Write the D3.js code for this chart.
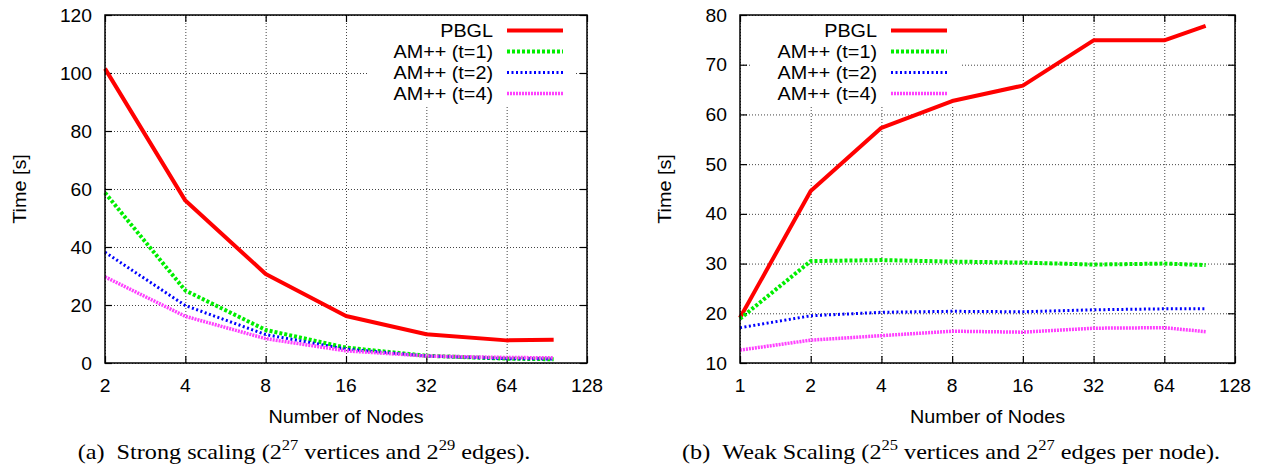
<!DOCTYPE html>
<html>
<head>
<meta charset="utf-8">
<script src="https://cdn.jsdelivr.net/npm/d3@7"></script>
<style>
  body { margin: 0; background: #fff; }
  svg { display: block; }
</style>
</head>
<body>
<div id="chart"></div>
<script>
"use strict";

// strong scaling (2^27 vertices, 2^29 edges)
const strongNodes = [2, 4, 8, 16, 32, 64, 96];
const strongPBGL = [101.5, 56, 30.7, 16.2, 9.9, 7.8, 8.0];
const strongAM1 = [58.7, 25.0, 11.4, 5.3, 2.5, 1.5, 1.3];
const strongAM2 = [38.2, 19.8, 9.8, 4.8, 2.4, 1.5, 1.4];
const strongAM4 = [29.7, 16.1, 8.4, 4.2, 2.4, 1.9, 1.8];
const strongXTicks = [2, 4, 8, 16, 32, 64, 128];
const strongYTicks = [0, 20, 40, 60, 80, 100, 120];

// weak scaling (2^25 vertices, 2^27 edges per node)
const weakNodes = [1, 2, 4, 8, 16, 32, 64, 96];
const weakPBGL = [19.1, 44.6, 57.3, 62.7, 65.8, 74.9, 74.9, 77.8];
const weakAM1 = [18.9, 30.5, 30.7, 30.4, 30.2, 29.8, 30.0, 29.7];
const weakAM2 = [17.1, 19.5, 20.2, 20.4, 20.3, 20.7, 20.9, 20.9];
const weakAM4 = [12.6, 14.6, 15.5, 16.4, 16.2, 17.0, 17.1, 16.3];
const weakXTicks = [1, 2, 4, 8, 16, 32, 64, 128];
const weakYTicks = [10, 20, 30, 40, 50, 60, 70, 80];

const seriesNames = ["PBGL", "AM++ (t=1)", "AM++ (t=2)", "AM++ (t=4)"];
const seriesStyle = [
    { color: "#ff0000", width: 4, dash: null },
    { color: "#00ee00", width: 4, dash: "3,2" },
    { color: "#0000ff", width: 3, dash: "2,2.5" },
    { color: "#ff40ff", width: 3.5, dash: "2,1" }
];

var width = 1269,
    height = 466;

var svg = d3.select("#chart")
    .append("svg")
    .attr("width", width)
    .attr("height", height);

const sans = "'Liberation Sans', Arial, sans-serif";
const serif = "'Liberation Serif', 'Times New Roman', serif";
const stretch = 1.1;

// text a bit wider than the font, like the gnuplot output
const label = (g, x, y, str, size, anchor, family) => {
    return g.append("text")
        .attr("transform", "translate(" + x + "," + y + ") scale(" + stretch + ",1)")
        .attr("text-anchor", anchor || "middle")
        .attr("font-family", family || sans)
        .attr("font-size", size)
        .attr("fill", "#000")
        .text(str);
};

const drawPanel = (p) => {
    var g = svg.append("g");
    var x = d3.scaleLog().base(2).domain(p.xDomain).range([p.left, p.right]);
    var y = d3.scaleLinear().domain(p.yDomain).range([p.bottom, p.top]);
    var h = p.bottom - p.top,
        w = p.right - p.left;

    // grid
    g.append("g")
        .attr("transform", "translate(0," + p.bottom + ")")
        .call(d3.axisBottom(x).tickValues(p.xTicks).tickSize(-h).tickFormat(""))
        .call(a => a.select(".domain").remove())
        .selectAll("line")
        .attr("stroke", "#444")
        .attr("stroke-dasharray", "1,2");
    g.append("g")
        .attr("transform", "translate(" + p.left + ",0)")
        .call(d3.axisLeft(y).tickValues(p.yTicks).tickSize(-w).tickFormat(""))
        .call(a => a.select(".domain").remove())
        .selectAll("line")
        .attr("stroke", "#444")
        .attr("stroke-dasharray", "1,2");

    // inward ticks on all four sides
    var tk = 7;
    g.append("g").attr("transform", "translate(0," + p.bottom + ")")
        .call(d3.axisBottom(x).tickValues(p.xTicks).tickSize(-tk).tickFormat(""));
    g.append("g").attr("transform", "translate(0," + p.top + ")")
        .call(d3.axisTop(x).tickValues(p.xTicks).tickSize(-tk).tickFormat(""));
    g.append("g").attr("transform", "translate(" + p.left + ",0)")
        .call(d3.axisLeft(y).tickValues(p.yTicks).tickSize(-tk).tickFormat(""));
    g.append("g").attr("transform", "translate(" + p.right + ",0)")
        .call(d3.axisRight(y).tickValues(p.yTicks).tickSize(-tk).tickFormat(""));
    g.selectAll(".domain").remove();
    g.selectAll(".tick line").filter(function () { return !this.getAttribute("stroke-dasharray"); })
        .attr("stroke", "#000").attr("stroke-width", 1.2);

    // tick labels
    p.xTicks.forEach(t => label(g, x(t), p.bottom + 29, t, 17.5));
    p.yTicks.forEach(t => label(g, p.left - 13, y(t) + 6.5, t, 17.5, "end"));

    // axis titles
    label(g, (p.left + p.right) / 2, p.bottom + 60, "Number of Nodes", 18);
    g.append("text")
        .attr("transform", "translate(" + (p.titleX) + "," + ((p.top + p.bottom) / 2) + ") rotate(-90) scale(" + stretch + ",1)")
        .attr("text-anchor", "middle")
        .attr("font-family", sans)
        .attr("font-size", 18)
        .text("Time [s]");

    // legend box (opaque)
    g.append("rect")
        .attr("x", p.keyBox[0]).attr("y", p.top + 1)
        .attr("width", p.keyBox[1] - p.keyBox[0])
        .attr("height", 104 - p.top)
        .attr("fill", "#fff");

    // lines
    var line = d3.line()
        .x(d => x(d[0]))
        .y(d => y(d[1]));
    p.series.forEach((vals, i) => {
        var st = seriesStyle[i];
        g.append("path")
            .datum(p.nodes.map((n, j) => [n, vals[j]]))
            .attr("fill", "none")
            .attr("stroke", st.color)
            .attr("stroke-width", st.width)
            .attr("stroke-dasharray", st.dash)
            .attr("stroke-linejoin", "round")
            .attr("d", line);
    });

    // legend entries
    seriesNames.forEach((name, i) => {
        var st = seriesStyle[i];
        var cy = 30.5 + i * 21;
        label(g, p.keyText, cy + 6.5, name, 18, "end");
        g.append("line")
            .attr("x1", p.keyText + 14).attr("x2", p.keyText + 70)
            .attr("y1", cy).attr("y2", cy)
            .attr("stroke", st.color)
            .attr("stroke-width", st.width)
            .attr("stroke-dasharray", st.dash);
    });

    // frame
    g.append("rect")
        .attr("x", p.left).attr("y", p.top)
        .attr("width", w).attr("height", h)
        .attr("fill", "none")
        .attr("stroke", "#000")
        .attr("stroke-width", 1.5);

    // caption with superscripts
    var cap = g.append("text")
        .attr("transform", "translate(" + p.capX + "," + 459 + ") scale(" + stretch + ",1)")
        .attr("text-anchor", "middle")
        .attr("font-family", serif)
        .attr("font-size", 22);
    p.caption.forEach(part => {
        if (part.sup) {
            cap.append("tspan").attr("dy", -9).attr("font-size", 15).text(part.sup);
        } else {
            cap.append("tspan").attr("dy", part.after ? 9 : 0).text(part.t);
        }
    });
};

drawPanel({
    left: 105, right: 587, top: 15, bottom: 363,
    xDomain: [2, 128], yDomain: [0, 120],
    xTicks: strongXTicks, yTicks: strongYTicks,
    nodes: strongNodes,
    series: [strongPBGL, strongAM1, strongAM2, strongAM4],
    titleX: 26, keyText: 493, keyBox: [368, 576],
    capX: 304,
    caption: [
        { t: "(a)\u2002Strong scaling (2" }, { sup: "27" },
        { t: " vertices and 2", after: true }, { sup: "29" },
        { t: " edges).", after: true }
    ]
});

drawPanel({
    left: 740, right: 1235, top: 15, bottom: 363,
    xDomain: [1, 128], yDomain: [10, 80],
    xTicks: weakXTicks, yTicks: weakYTicks,
    nodes: weakNodes,
    series: [weakPBGL, weakAM1, weakAM2, weakAM4],
    titleX: 671, keyText: 877, keyBox: [750, 960],
    capX: 951,
    caption: [
        { t: "(b)\u2002Weak Scaling (2" }, { sup: "25" },
        { t: " vertices and 2", after: true }, { sup: "27" },
        { t: " edges per node).", after: true }
    ]
});
</script>
</body>
</html>
